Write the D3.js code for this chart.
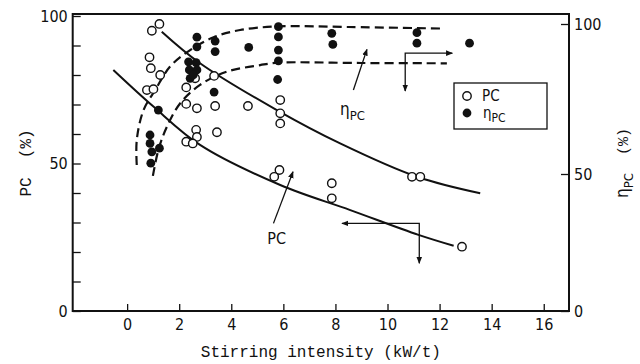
<!DOCTYPE html>
<html>
<head>
<meta charset="utf-8">
<script src="https://cdn.jsdelivr.net/npm/d3@7"></script>
<style>
  body { margin: 0; background: #fff; }
  text { fill: #111; }
</style>
</head>
<body>
<svg id="chart" width="640" height="364"></svg>
<script>

// ---- data ----
var xTicks = [0, 2, 4, 6, 8, 10, 12, 14, 16]
var leftTicks = [0, 10, 20, 30, 40, 50, 60, 70, 80, 90, 100]
var leftLabels = [0, 50, 100]
var rightTicks = [0, 50, 100]

// PC (%) measured, open circles  [stirring intensity, PC]
var pcPoints = [
  [0.95, 95.0], [1.24, 97.3], [0.86, 86.0], [0.91, 82.3], [1.27, 80.0],
  [0.76, 74.9], [1.01, 75.2], [2.27, 75.8], [2.61, 78.9], [3.34, 79.7],
  [2.27, 70.2], [2.68, 68.7], [3.38, 69.5], [4.64, 69.5], [2.65, 61.4],
  [2.68, 59.0], [2.27, 57.4], [2.52, 56.8], [3.45, 60.6], [5.88, 71.5],
  [5.88, 67.0], [5.88, 63.6], [5.85, 47.8], [5.65, 45.5], [7.86, 43.3],
  [7.86, 38.2], [10.94, 45.5], [11.26, 45.5], [12.86, 21.8]
]

// eta_PC (%) measured, filled circles [stirring intensity, eta_PC]
var etaPoints = [
  [2.68, 95.6], [2.68, 92.4], [3.38, 94.3], [3.38, 90.8], [4.67, 92.2],
  [5.81, 99.1], [5.81, 95.7], [5.81, 91.3], [5.81, 87.7], [5.78, 81.5],
  [2.36, 87.4], [2.65, 87.1], [2.39, 84.7], [2.68, 84.7], [2.42, 81.9],
  [2.54, 83.0], [3.34, 77.3], [1.20, 71.3], [0.88, 63.0], [0.88, 60.2],
  [0.95, 57.4], [1.24, 58.6], [0.91, 53.6], [7.86, 96.9], [7.90, 93.2],
  [11.13, 97.1], [11.13, 93.6], [13.15, 93.6]
]

// fitted PC curves (left axis)
var pcUpperFit = [[1.33, 94.7], [2.80, 84.0], [5.75, 68.1], [8.18, 56.8], [11.13, 45.5], [13.56, 39.9]]
var pcLowerFit = [[-0.53, 81.7], [1.01, 69.3], [2.80, 56.3], [5.88, 42.7], [8.57, 34.2], [11.19, 25.8], [12.54, 22.1]]

// fitted eta_PC band (right axis)
var etaOuterFit = [[0.37, 53.0], [0.37, 61.3], [0.63, 71.3], [1.08, 78.0], [1.65, 85.8], [2.42, 91.3],
                   [3.32, 95.6], [4.34, 98.0], [5.80, 99.2], [8.5, 99.0], [12.02, 98.5]]
var etaInnerFit = [[0.99, 49.3], [1.20, 58.0], [1.53, 65.8], [2.04, 73.6], [2.80, 79.7], [3.83, 84.1],
                   [5.11, 86.3], [5.80, 87.1], [9.0, 87.0], [12.28, 86.9]]

// annotation arrows, in left-axis units
var labelArrows = [
  {from: [8.69, 74.9], to: [9.21, 88.7]},
  {from: [5.62, 29.7], to: [6.37, 47.2]}
]
var cornerArrows = [
  [[12.49, 87.4], [10.68, 87.4], [10.68, 74.6]],
  [[8.25, 29.7], [11.22, 29.7], [11.22, 16.2]]
]

// ---- drawing ----
var svg = d3.select("#chart")
var tickFont = "'Liberation Sans Narrow', 'DejaVu Sans Condensed', 'Roboto Condensed', 'Liberation Sans', sans-serif"
var monoFont = "'Liberation Mono', 'DejaVu Sans Mono', monospace"

var x = d3.scaleLinear().domain([-2.09, 16.97]).range([72.7, 569])
var yL = d3.scaleLinear().domain([0, 100]).range([311, 16])
var yR = d3.scaleLinear().domain([0, 50, 100]).range([311, 174, 24])

svg.append("defs").append("marker")
  .attr("id", "head")
  .attr("viewBox", "0 0 10 10")
  .attr("refX", 9)
  .attr("refY", 5)
  .attr("markerWidth", 7)
  .attr("markerHeight", 7)
  .attr("markerUnits", "userSpaceOnUse")
  .attr("orient", "auto-start-reverse")
  .append("path")
    .attr("d", "M0,1 L10,5 L0,9 Z")
    .attr("fill", "#111")

// axes
var gx = svg.append("g")
  .attr("transform", "translate(0," + yL(0) + ")")
  .call(d3.axisBottom(x).tickValues(xTicks).tickSizeInner(-7).tickSizeOuter(0).tickPadding(8))
var gl = svg.append("g")
  .attr("transform", "translate(" + x.range()[0] + ",0)")
  .call(d3.axisLeft(yL).tickValues(leftTicks).tickSizeInner(-8).tickSizeOuter(0).tickPadding(5)
    .tickFormat(function(d){ return leftLabels.indexOf(d) >= 0 ? d : "" }))
var gr = svg.append("g")
  .attr("transform", "translate(" + x.range()[1] + ",0)")
  .call(d3.axisRight(yR).tickValues(rightTicks).tickSizeInner(-8).tickSizeOuter(0).tickPadding(5))

svg.selectAll(".domain").remove()
svg.selectAll(".tick line").attr("stroke", "#111").attr("stroke-width", 1.3)
svg.selectAll(".tick text")
  .style("font-family", tickFont)
  .style("font-size", "16px")
  .attr("fill", "#111")

// frame
svg.append("rect")
  .attr("x", x.range()[0])
  .attr("y", 14)
  .attr("width", x.range()[1] - x.range()[0])
  .attr("height", yL(0) - 14)
  .attr("fill", "none")
  .attr("stroke", "#111")
  .attr("stroke-width", 2)

// axis titles
svg.append("text")
  .attr("x", (x.range()[0] + x.range()[1]) / 2)
  .attr("y", 357)
  .attr("text-anchor", "middle")
  .style("font-family", monoFont)
  .style("font-size", "16px")
  .text("Stirring intensity (kW/t)")

svg.append("text")
  .attr("transform", "translate(31,163) rotate(-90)")
  .attr("text-anchor", "middle")
  .attr("xml:space", "preserve")
  .style("white-space", "pre")
  .style("font-family", monoFont)
  .style("font-size", "16px")
  .text("PC  (%)")

var rt = svg.append("text")
  .attr("transform", "translate(628,163) rotate(-90)")
  .attr("text-anchor", "middle")
  .style("white-space", "pre")
  .style("font-family", tickFont)
  .style("font-size", "17px")
rt.append("tspan").text("η")
rt.append("tspan").attr("dy", 5).style("font-size", "13px").text("PC")
rt.append("tspan").attr("dy", -5).style("font-family", monoFont).style("font-size", "15px").text("  (%)")

// fitted curves
var lineL = d3.line().x(function(d){ return x(d[0]) }).y(function(d){ return yL(d[1]) }).curve(d3.curveCatmullRom)
var lineR = d3.line().x(function(d){ return x(d[0]) }).y(function(d){ return yR(d[1]) }).curve(d3.curveCatmullRom)

svg.append("g").selectAll("path")
  .data([pcUpperFit, pcLowerFit])
  .enter().append("path")
    .attr("d", lineL)
    .attr("fill", "none")
    .attr("stroke", "#111")
    .attr("stroke-width", 2)

svg.append("g").selectAll("path")
  .data([etaOuterFit, etaInnerFit])
  .enter().append("path")
    .attr("d", lineR)
    .attr("fill", "none")
    .attr("stroke", "#111")
    .attr("stroke-width", 2.2)
    .attr("stroke-dasharray", "9,5")

// annotations
svg.append("g").selectAll("line")
  .data(labelArrows)
  .enter().append("line")
    .attr("x1", function(d){ return x(d.from[0]) })
    .attr("y1", function(d){ return yL(d.from[1]) })
    .attr("x2", function(d){ return x(d.to[0]) })
    .attr("y2", function(d){ return yL(d.to[1]) })
    .attr("stroke", "#111")
    .attr("stroke-width", 1.3)
    .attr("marker-end", "url(#head)")

svg.append("g").selectAll("path")
  .data(cornerArrows)
  .enter().append("path")
    .attr("d", d3.line().x(function(d){ return x(d[0]) }).y(function(d){ return yL(d[1]) }))
    .attr("fill", "none")
    .attr("stroke", "#111")
    .attr("stroke-width", 1.3)
    .attr("marker-start", "url(#head)")
    .attr("marker-end", "url(#head)")

var etaLabel = svg.append("text")
  .attr("x", x(8.18))
  .attr("y", yL(66.4))
  .style("font-family", tickFont)
  .style("font-size", "17px")
etaLabel.append("tspan").text("η")
etaLabel.append("tspan").attr("dy", 5).style("font-size", "13px").text("PC")

svg.append("text")
  .attr("x", x(5.38))
  .attr("y", yL(22.7))
  .style("font-family", tickFont)
  .style("font-size", "16px")
  .text("PC")

// points
svg.append("g").selectAll("circle")
  .data(pcPoints)
  .enter().append("circle")
    .attr("cx", function(d){ return x(d[0]) })
    .attr("cy", function(d){ return yL(d[1]) })
    .attr("r", 4.2)
    .attr("fill", "#fff")
    .attr("stroke", "#111")
    .attr("stroke-width", 1.4)

svg.append("g").selectAll("circle")
  .data(etaPoints)
  .enter().append("circle")
    .attr("cx", function(d){ return x(d[0]) })
    .attr("cy", function(d){ return yR(d[1]) })
    .attr("r", 4.4)
    .attr("fill", "#111")

// legend
var legend = svg.append("g").attr("transform", "translate(454,83)")
legend.append("rect")
  .attr("width", 93)
  .attr("height", 46)
  .attr("fill", "#fff")
  .attr("stroke", "#111")
  .attr("stroke-width", 1.3)
legend.append("circle").attr("cx", 13).attr("cy", 13).attr("r", 4.2)
  .attr("fill", "#fff").attr("stroke", "#111").attr("stroke-width", 1.4)
legend.append("circle").attr("cx", 13).attr("cy", 30).attr("r", 4.4).attr("fill", "#111")
legend.append("text").attr("x", 28).attr("y", 18)
  .style("font-family", tickFont).style("font-size", "15px").text("PC")
var lt = legend.append("text").attr("x", 29).attr("y", 35)
  .style("font-family", tickFont).style("font-size", "15px")
lt.append("tspan").text("η")
lt.append("tspan").attr("dy", 4).style("font-size", "12px").text("PC")

</script>
</body>
</html>
